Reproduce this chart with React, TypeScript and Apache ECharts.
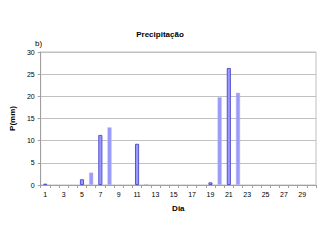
import React, { useEffect, useRef } from "react";
import * as echarts from "echarts";

const days: string[] = Array.from({ length: 30 }, (_, i) => String(i + 1));
const precip: number[] = [
  0.3, 0, 0, 0, 1.3, 2.8, 11.3, 13.0, 0, 0,
  9.3, 0.2, 0, 0, 0, 0, 0, 0, 0.6, 19.8,
  26.4, 20.8, 0, 0, 0, 0, 0, 0, 0, 0,
];
const yTicks = { min: 0, max: 30, interval: 5 };

export default function App() {
  const ref = useRef<HTMLDivElement>(null);
  useEffect(() => {
    if (!ref.current) return;
    const chart = echarts.init(ref.current, null, { renderer: "svg" });
    const font = "Liberation Sans, Arial, sans-serif";
    chart.setOption({
      animation: false,
      backgroundColor: "#ffffff",
      title: {
        text: "Precipitação",
        left: "center",
        top: 25,
        textStyle: { fontSize: 8, fontWeight: "bold", color: "#000", fontFamily: font },
      },
      graphic: [
        {
          type: "text",
          left: 35,
          top: 39,
          style: { text: "b)", fontSize: 8, fill: "#000", fontFamily: font },
        },
      ],
      grid: {
        left: 31,
        right: 4,
        top: 52,
        bottom: 55,
        show: true,
        borderColor: "#c0c0c0",
        borderWidth: 1,
      },
      xAxis: {
        type: "category",
        data: days,
        name: "Dia",
        nameLocation: "middle",
        nameGap: 19,
        nameTextStyle: { fontSize: 8, fontWeight: "bold", color: "#000", fontFamily: font },
        axisLine: { lineStyle: { color: "#a0a0a0" } },
        axisTick: { show: true, interval: 0, length: 3, lineStyle: { color: "#a0a0a0" } },
        axisLabel: { interval: 1, fontSize: 7, color: "#000", margin: 6, fontFamily: font },
      },
      yAxis: {
        type: "value",
        min: yTicks.min,
        max: yTicks.max,
        interval: yTicks.interval,
        name: "P(mm)",
        nameLocation: "middle",
        nameGap: 18,
        nameTextStyle: { fontSize: 8, fontWeight: "bold", color: "#000", fontFamily: font },
        axisLine: { show: true, lineStyle: { color: "#a0a0a0" } },
        axisTick: { show: true, length: 3, lineStyle: { color: "#a0a0a0" } },
        axisLabel: { fontSize: 7, color: "#000", margin: 6, fontFamily: font },
        splitLine: { lineStyle: { color: "#c0c0c0" } },
      },
      series: [
        {
          type: "bar",
          barWidth: "45%",
          data: precip.map((v, i) => ({
            value: v,
            itemStyle:
              v === 0
                ? { color: "#9999ff", borderWidth: 0 }
                : i % 2 === 0
                ? { color: "#9999ff", borderColor: "#5555cc", borderWidth: 1 }
                : { color: "#9999ff", borderColor: "#c0c0cc", borderWidth: 0.5 },
          })),
        },
      ],
    });
    return () => chart.dispose();
  }, []);
  return (
    <div
      ref={ref}
      style={{ position: "fixed", left: 0, top: 0, width: 320, height: 240 }}
    />
  );
}
